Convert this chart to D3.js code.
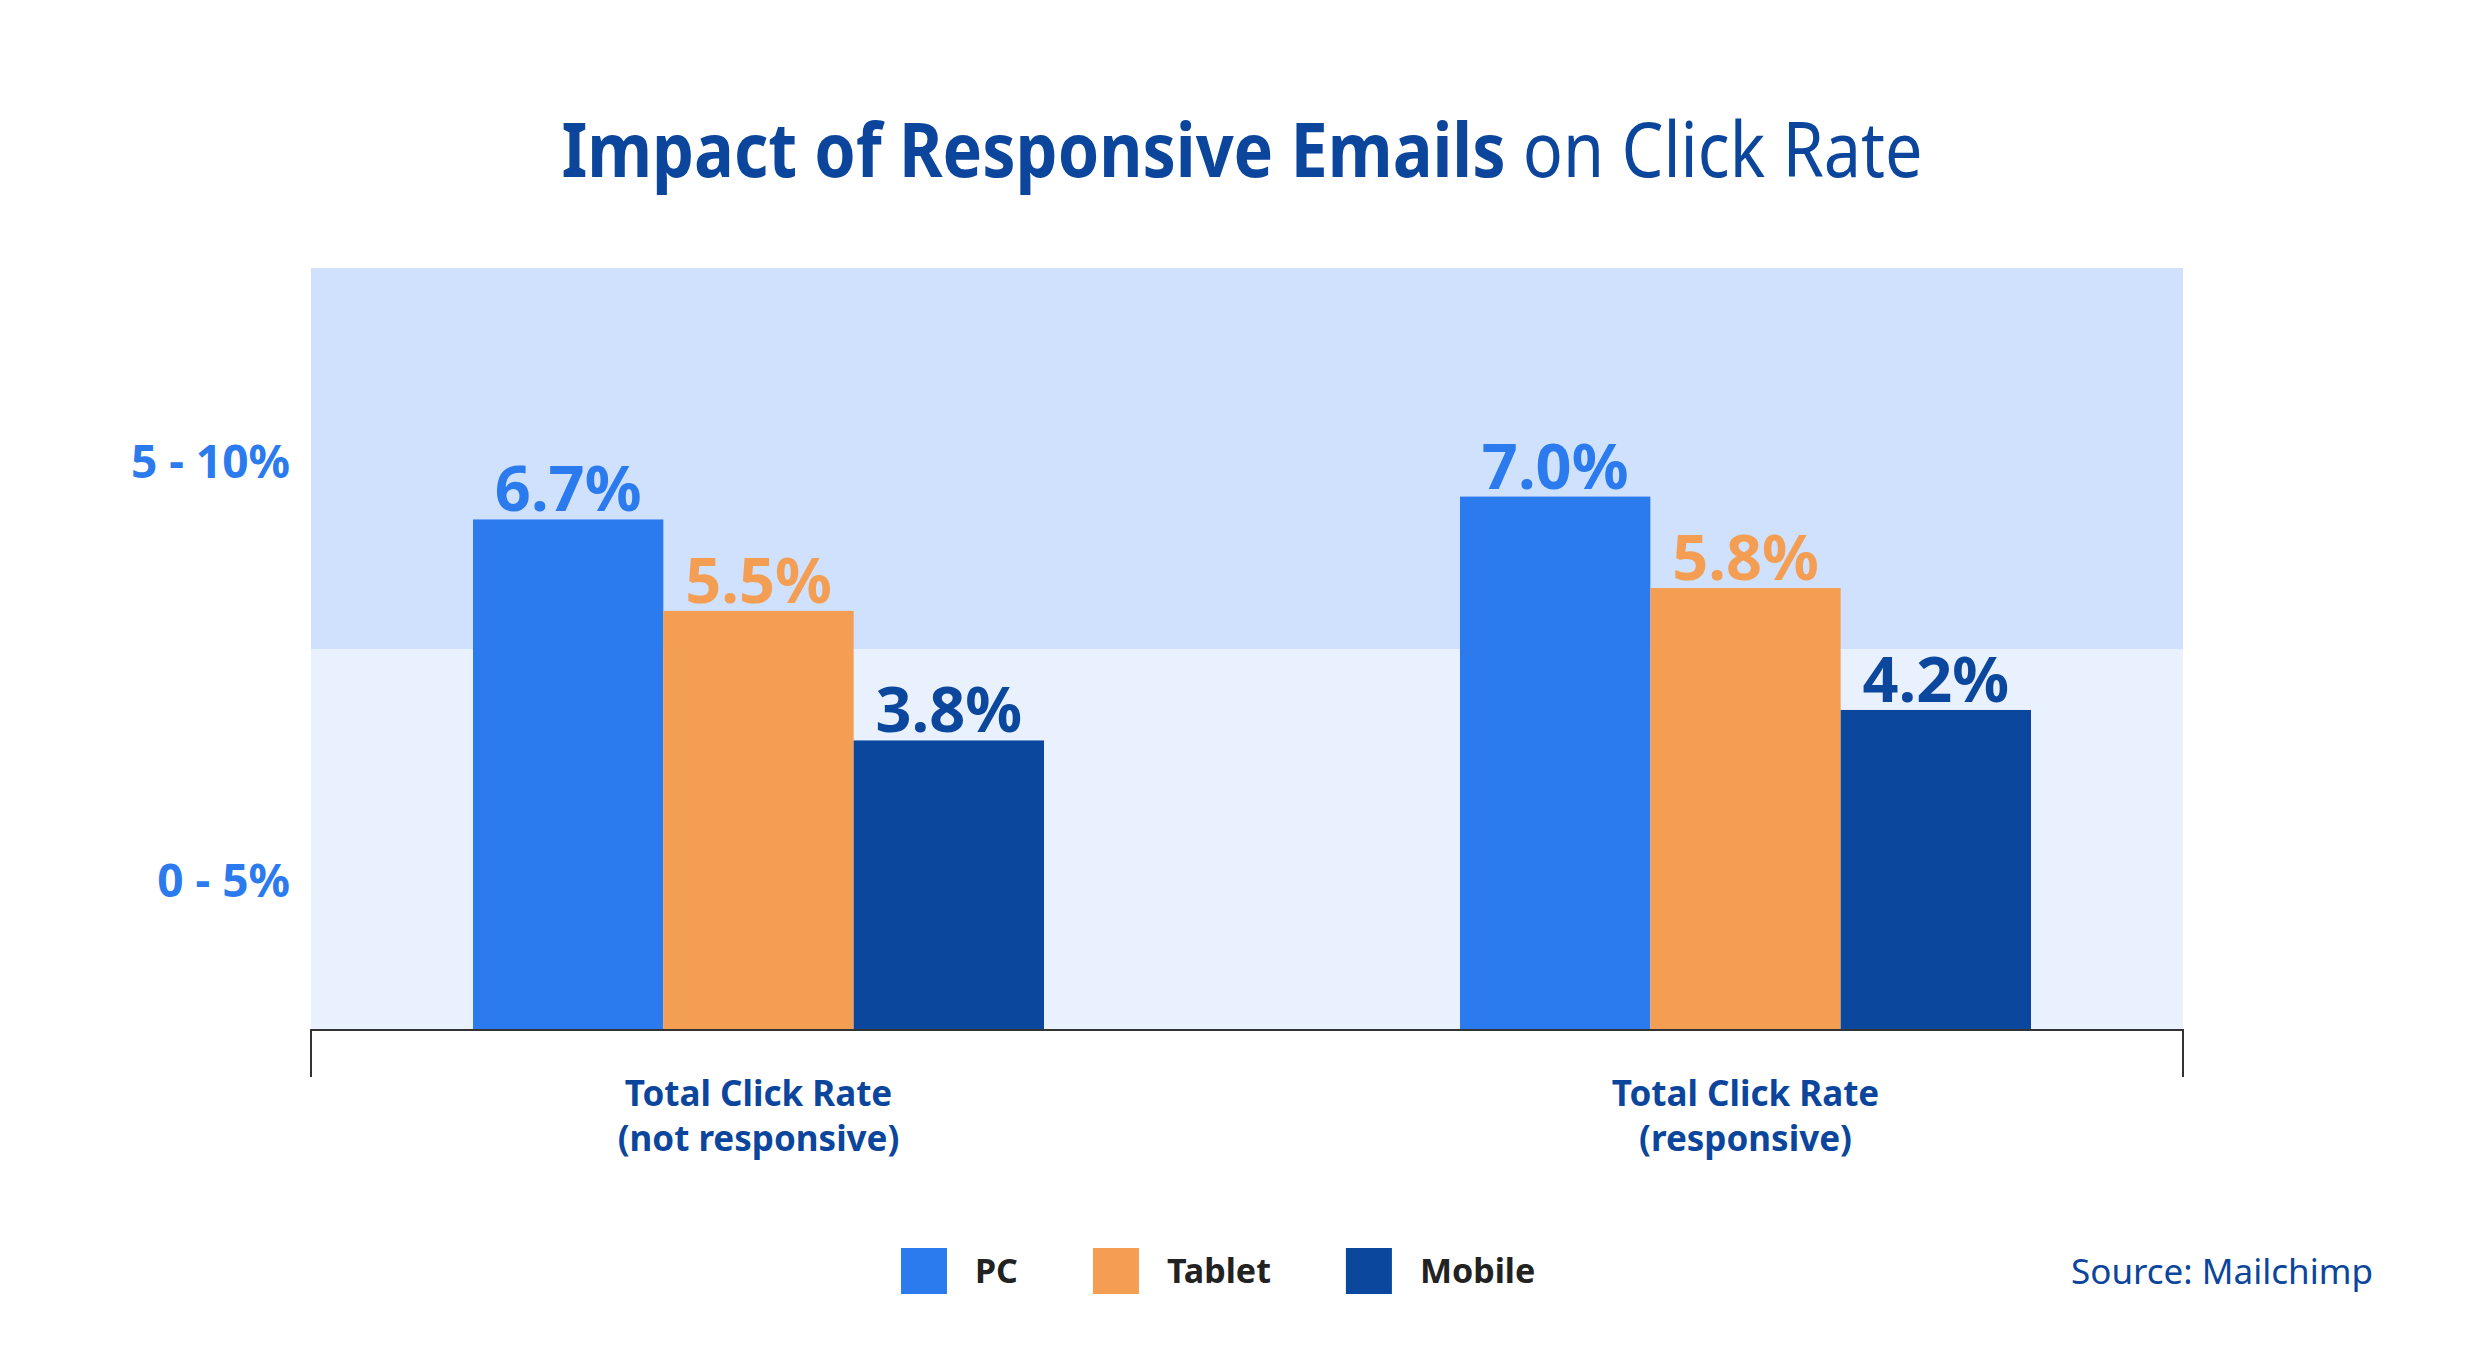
<!DOCTYPE html>
<html>
<head>
<meta charset="utf-8">
<script src="https://cdn.jsdelivr.net/npm/d3@7/dist/d3.min.js"></script>
<style>
  html, body { margin: 0; padding: 0; background: #ffffff; }
  svg { display: block; font-family: "Noto Sans", "Open Sans", sans-serif; }
</style>
</head>
<body>
<svg id="chart" width="2484" height="1356"></svg>
<script>
// ---------- data ----------
const titleBold = "Impact of Responsive Emails";
const titleRegular = " on Click Rate";
const categoryLine1 = ["Total Click Rate", "Total Click Rate"];
const categoryLine2 = ["(not responsive)", "(responsive)"];
const categories = ["not responsive", "responsive"];
const series = ["PC", "Tablet", "Mobile"];
const pcValues = [6.7, 7.0];
const tabletValues = [5.5, 5.8];
const mobileValues = [3.8, 4.2];
const bandBounds = [0, 5, 10];
const bandLabels = ["0 - 5%", "5 - 10%"];
const bandLabelValues = [2.0, 7.5];
const sourceText = "Source: Mailchimp";

// ---------- style ----------
const colors = { PC: "#2b7aee", Tablet: "#f49e54", Mobile: "#0b479d" };
const bandColors = ["#eaf1fe", "#cfe1fd"];
const navy = "#0b469c";

const W = 2484, H = 1356;
const plot = { left: 311, right: 2183, top: 268, bottom: 1030 };

const svg = d3.select("#chart");

// scales
const y = d3.scaleLinear().domain([0, 10]).range([plot.bottom, plot.top]);
const x0 = d3.scaleBand().domain(categories).range([265, 2239]).padding(0);
const groupWidth = 571;
const x1 = d3.scaleBand().domain(series).range([0, groupWidth]).padding(0);

const valuesBySeries = { PC: pcValues, Tablet: tabletValues, Mobile: mobileValues };
const barData = [];
categories.forEach((c, i) => {
  series.forEach(s => barData.push({ cat: c, s, v: valuesBySeries[s][i] }));
});

// ---------- title (slightly condensed face) ----------
const titleG = svg.append("g").attr("transform", `translate(${W / 2},177) scale(0.875,1)`);
const title = titleG.append("text")
  .attr("x", 0).attr("y", 0)
  .attr("text-anchor", "middle")
  .attr("font-size", 76)
  .attr("fill", navy);
title.append("tspan").attr("font-weight", 700).text(titleBold);
title.append("tspan").attr("font-weight", 400).text(titleRegular);

// ---------- background bands ----------
const bands = d3.range(bandLabels.length).map(i => ({ lo: bandBounds[i], hi: bandBounds[i + 1], label: bandLabels[i], at: bandLabelValues[i], color: bandColors[i] }));
svg.append("g").selectAll("rect").data(bands).join("rect")
  .attr("x", plot.left)
  .attr("width", plot.right - plot.left)
  .attr("y", d => y(d.hi))
  .attr("height", d => y(d.lo) - y(d.hi))
  .attr("fill", d => d.color);

// y band labels
svg.append("g").selectAll("text").data(bands).join("text")
  .attr("x", 290)
  .attr("y", d => y(d.at) + 3)
  .attr("dy", "0.36em")
  .attr("text-anchor", "end")
  .attr("font-size", 46)
  .attr("font-weight", 700)
  .attr("fill", "#2b7aee")
  .text(d => d.label);

// ---------- bars ----------
const barX = d => x0(d.cat) + x0.bandwidth() / 2 - groupWidth / 2 + x1(d.s);
svg.append("g").selectAll("rect").data(barData).join("rect")
  .attr("x", barX)
  .attr("width", x1.bandwidth())
  .attr("y", d => y(d.v))
  .attr("height", d => y(0) - y(d.v))
  .attr("fill", d => colors[d.s]);

// value labels
svg.append("g").selectAll("text").data(barData).join("text")
  .attr("x", d => barX(d) + x1.bandwidth() / 2)
  .attr("y", d => y(d.v) - 8)
  .attr("text-anchor", "middle")
  .attr("font-size", 63)
  .attr("font-weight", 700)
  .attr("fill", d => colors[d.s])
  .text(d => d3.format(".1f")(d.v) + "%");

// ---------- x axis ----------
const axisG = svg.append("g").attr("stroke", "#333").attr("stroke-width", 2).attr("fill", "none");
axisG.append("path")
  .attr("d", `M${plot.left},1077 V${plot.bottom} H${plot.right} V1077`);

const catLabels = svg.append("g").selectAll("text").data(categories).join("text")
  .attr("x", d => x0(d) + x0.bandwidth() / 2)
  .attr("text-anchor", "middle")
  .attr("font-size", 35)
  .attr("font-weight", 700)
  .attr("fill", navy);
catLabels.append("tspan").attr("x", d => x0(d) + x0.bandwidth() / 2).attr("y", 1106).text((d, i) => categoryLine1[i]);
catLabels.append("tspan").attr("x", d => x0(d) + x0.bandwidth() / 2).attr("y", 1151).text((d, i) => categoryLine2[i]);

// ---------- legend ----------
const legend = svg.append("g");
let lx = 901;
series.forEach(s => {
  legend.append("rect").attr("x", lx).attr("y", 1248).attr("width", 46).attr("height", 46).attr("fill", colors[s]);
  const t = legend.append("text").attr("x", lx + 46 + 28).attr("y", 1271).attr("dy", "0.36em")
    .attr("font-size", 34).attr("font-weight", 700).attr("fill", "#222").text(s);
  lx = lx + 46 + 28 + t.node().getComputedTextLength() + 75;
});

// source
svg.append("text")
  .attr("x", 2071).attr("y", 1271).attr("dy", "0.36em")
  .attr("font-size", 35).attr("font-weight", 400).attr("fill", navy)
  .text(sourceText);
</script>
</body>
</html>
